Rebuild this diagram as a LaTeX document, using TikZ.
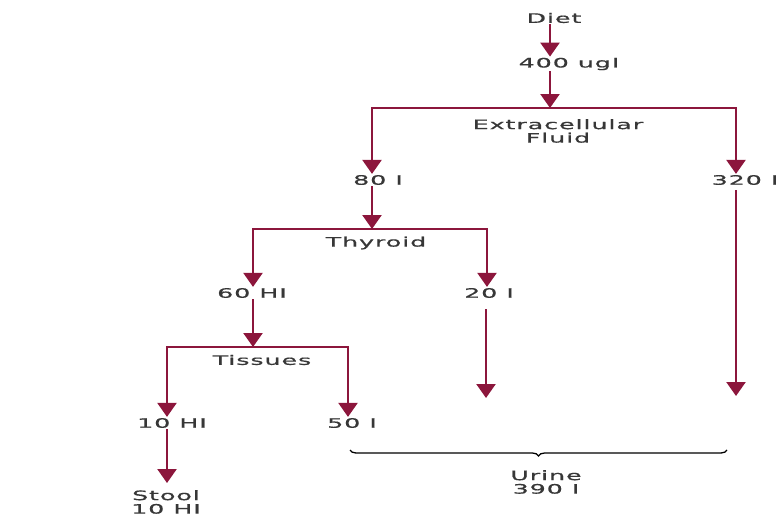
\documentclass[tikz,border=0pt]{standalone}
\usepackage{fontspec}
\newfontfamily\flowfont[FakeStretch=1.95,LetterSpace=7,FakeBold=0.7]{DejaVu Sans}
\usetikzlibrary{arrows.meta,decorations.pathreplacing}
\definecolor{flowred}{RGB}{140,22,60}
\definecolor{labelgray}{RGB}{55,55,55}

\begin{document}
\begin{tikzpicture}[x=1pt,y=-1pt,
  tag/.style={font=\fontsize{13}{13.5}\flowfont, text=labelgray, inner sep=1pt, align=center},
  flow/.style={draw=flowred, line width=2.4pt, line join=miter,
    -{Triangle[width=19pt,length=14pt]}},
  bracket/.style={draw=black, line width=1.3pt, decorate,
    decoration={brace, amplitude=6pt, mirror}}]
\useasboundingbox (0,0) rectangle (781,517);

% labels
\node[tag] (diet)  at (554,18)  {Diet};
\node[tag] (ugi)   at (569,64)  {400 ugI};
\node[tag] (ecf)   at (558,131) {Extracellular\\Fluid};
\node[tag] (i80)   at (378,180) {80 I};
\node[tag] (i320)  at (745,180) {320 I};
\node[tag] (thy)   at (376,243) {Thyroid};
\node[tag] (hi60)  at (252,293) {60 HI};
\node[tag] (i20)   at (489,293) {20 I};
\node[tag] (tis)   at (262,360) {Tissues};
\node[tag] (hi10)  at (172,423) {10 HI};
\node[tag] (i50)   at (352,423) {50 I};
\node[tag] (stool) at (166,502) {Stool\\10 HI};
\node[tag] (urine) at (546,482) {Urine\\390 I};

% branching points and columns
\coordinate (b1)  at (550,108);
\coordinate (b1l) at (372,108);
\coordinate (b1r) at (736,108);
\coordinate (b2)  at (372,229);
\coordinate (b2l) at (253,229);
\coordinate (b2r) at (487,229);
\coordinate (b3)  at (253,347);
\coordinate (b3l) at (167,347);
\coordinate (b3r) at (348,347);
\coordinate (e20)  at (486,398);
\coordinate (e320) at (736,396);
\coordinate (ul) at (350,450);
\coordinate (ur) at (727,450);

% diet to extracellular fluid
\draw[flow] (diet.south -| b1) -- (ugi.north -| b1);
\draw[flow] (ugi.south -| b1) -- (b1);
\draw[flow] (b1) -| (b1l |- i80.north);
\draw[flow] (b1) -| (b1r |- i320.north);

% thyroid
\draw[flow] (i80.south -| b2) -- (b2);
\draw[flow] (b2) -| (b2l |- hi60.north);
\draw[flow] (b2) -| (b2r |- i20.north);

% tissues
\draw[flow] (hi60.south -| b3) -- (b3);
\draw[flow] (b3) -| (b3l |- hi10.north);
\draw[flow] (b3) -| (b3r |- i50.north);

% stool
\draw[flow] (hi10.south -| b3l) -- ([yshift=6pt]stool.north -| b3l);

% urine outflows
\draw[flow, shorten <=10pt] (i20.south -| e20) -- (e20);
\draw[flow, shorten <=4pt] (i320.south -| e320) -- (e320);
\draw[bracket] (ul) -- (ur);
\end{tikzpicture}
\end{document}
